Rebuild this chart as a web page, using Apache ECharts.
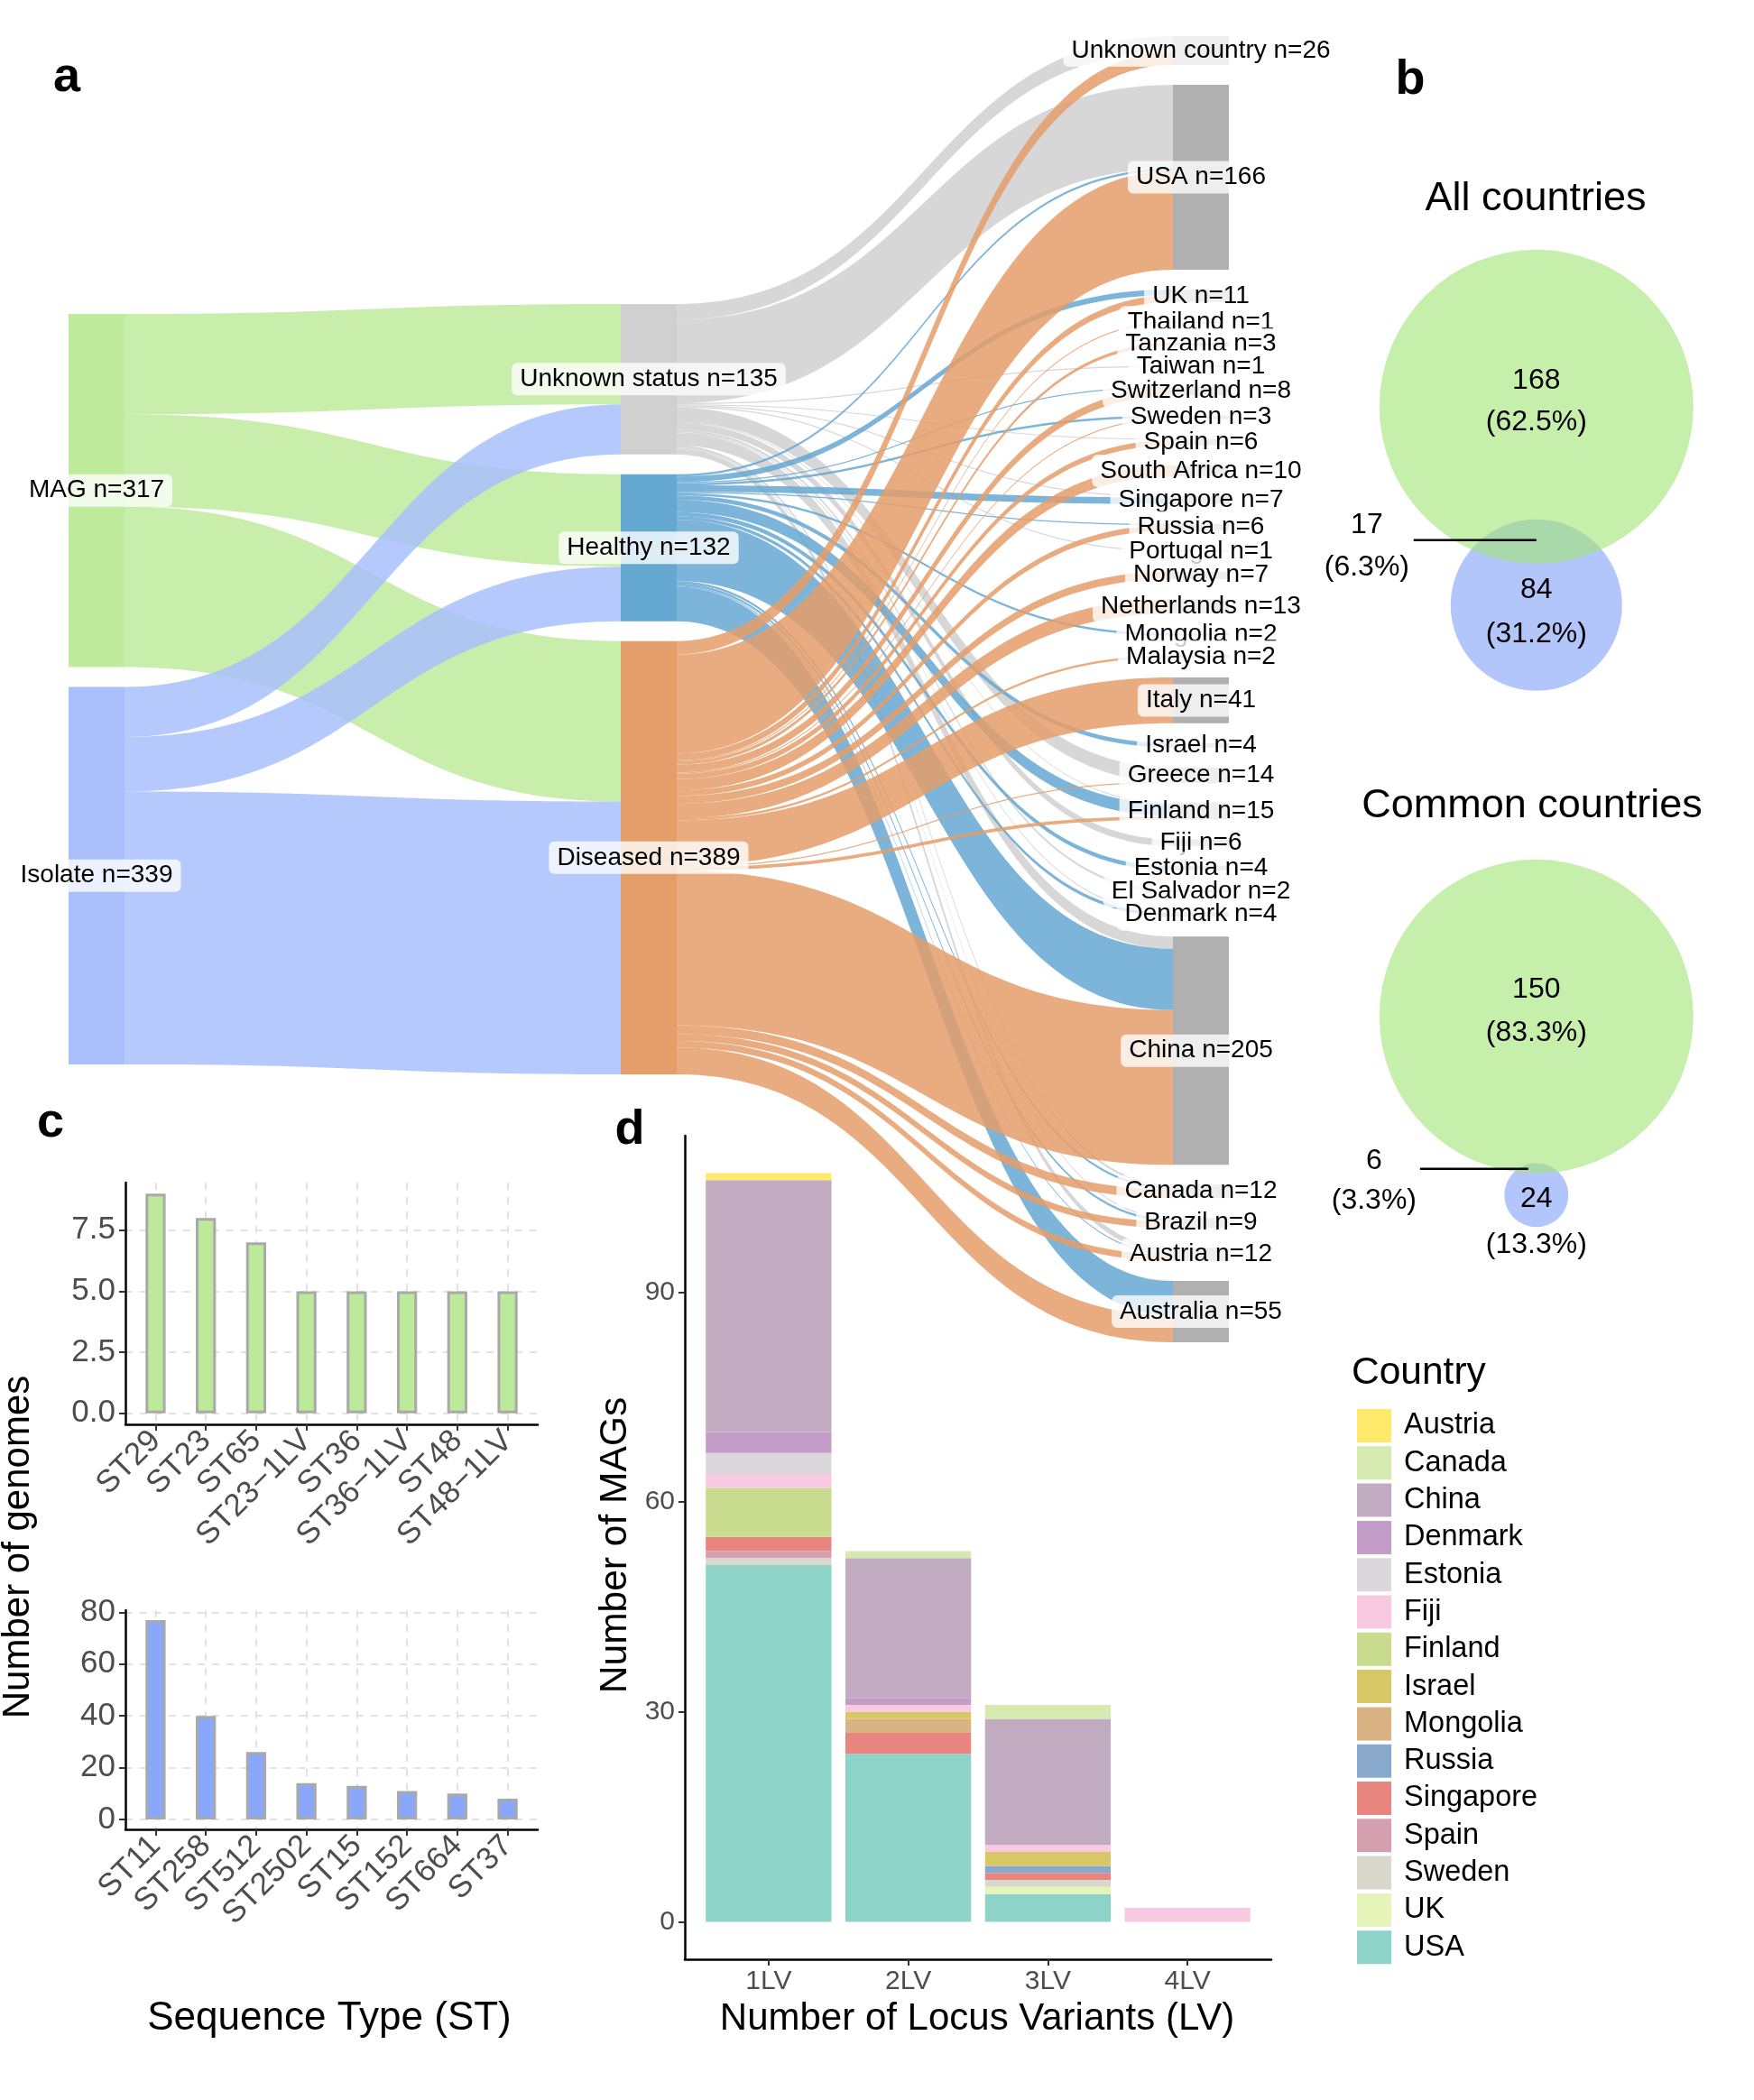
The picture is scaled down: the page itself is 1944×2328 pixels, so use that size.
<!DOCTYPE html>
<html><head><meta charset="utf-8">
<script src="https://cdn.jsdelivr.net/npm/echarts@6/dist/echarts.min.js"></script>
<style>html,body{margin:0;padding:0;background:#fff}#c{width:1944px;height:2328px}</style>
</head><body><div id="c"></div><script>
const FONT = '"Liberation Sans", Arial, Helvetica, sans-serif';

// ---------- Panel a: sankey data ----------
const sources = ['MAG', 'Isolate'];
const sourceCounts = [317, 339];
const statuses = ['Unknown status', 'Healthy', 'Diseased'];
const statusCounts = [135, 132, 389];
const sourceToStatus = [ // rows: MAG, Isolate ; cols: Unknown, Healthy, Diseased
  [90, 83, 144],
  [45, 49, 245]
];
const countries = ['Unknown country','USA','UK','Thailand','Tanzania','Taiwan','Switzerland','Sweden','Spain','South Africa','Singapore','Russia','Portugal','Norway','Netherlands','Mongolia','Malaysia','Italy','Israel','Greece','Finland','Fiji','Estonia','El Salvador','Denmark','China','Canada','Brazil','Austria','Australia'];
const countryCounts = [26,166,11,1,3,1,8,3,6,10,7,6,1,7,13,2,2,41,4,14,15,6,4,2,4,205,12,9,12,55];
const unknownToCountry  = [14,75,0,0,0,1,0,0,1,0,1,0,1,0,0,0,0,0,0,13,1,6,0,2,1,11,2,1,5,0];
const healthyToCountry  = [0,2,5,0,0,0,1,2,0,0,6,1,0,0,0,2,0,0,4,0,11,0,4,0,3,55,2,2,1,31];
const diseasedToCountry = [12,89,6,1,3,0,7,1,5,10,0,5,0,7,13,0,2,41,0,1,3,0,0,0,0,139,8,6,6,24];
const sourceColors = ['#bfeb9d', '#a8bffc'];
const statusColors = ['#d0d0d0', '#65a8d2', '#e59e6a'];
const countryNodeColor = '#b0b0b0';

// ---------- Panel b: venn data ----------
const vennAll = {magOnly: 168, both: 17, isoOnly: 84};
const vennCommon = {magOnly: 150, both: 6, isoOnly: 24};

// ---------- Panel c data ----------
const stMAG = ['ST29','ST23','ST65','ST23\u22121LV','ST36','ST36\u22121LV','ST48','ST48\u22121LV'];
const stMAGCounts = [9,8,7,5,5,5,5,5];
const stIso = ['ST11','ST258','ST512','ST2502','ST15','ST152','ST664','ST37'];
const stIsoCounts = [77,40,26,14,13,11,10,8];
const cTopTicks = [0, 2.5, 5, 7.5];
const cBotTicks = [0, 20, 40, 60, 80];

// ---------- Panel d data ----------
const lvCats = ['1LV','2LV','3LV','4LV'];
const lvTicks = [0, 30, 60, 90];
const legendOrder = ['Austria','Canada','China','Denmark','Estonia','Fiji','Finland','Israel','Mongolia','Russia','Singapore','Spain','Sweden','UK','USA'];
const stackOrder = ['USA','UK','Sweden','Spain','Singapore','Russia','Mongolia','Israel','Finland','Fiji','Estonia','Denmark','China','Canada','Austria'];
const lvUSA       = [51,24,4,0];
const lvUK        = [0,0,1,0];
const lvSweden    = [1,0,1,0];
const lvSpain     = [1,0,0,0];
const lvSingapore = [2,3,1,0];
const lvRussia    = [0,0,1,0];
const lvMongolia  = [0,2,0,0];
const lvIsrael    = [0,1,2,0];
const lvFinland   = [7,0,0,0];
const lvFiji      = [2,1,1,2];
const lvEstonia   = [3,0,0,0];
const lvDenmark   = [3,1,0,0];
const lvChina     = [36,20,18,0];
const lvCanada    = [0,1,2,0];
const lvAustria   = [1,0,0,0];
const lvData = {USA:lvUSA, UK:lvUK, Sweden:lvSweden, Spain:lvSpain, Singapore:lvSingapore, Russia:lvRussia, Mongolia:lvMongolia, Israel:lvIsrael, Finland:lvFinland, Fiji:lvFiji, Estonia:lvEstonia, Denmark:lvDenmark, China:lvChina, Canada:lvCanada, Austria:lvAustria};
const lvColors = {Austria:'#ffe96b', Canada:'#d5e9b0', China:'#c1abc1', Denmark:'#c39cc8', Estonia:'#dcd7da', Fiji:'#f8c9e1', Finland:'#c8db8e', Israel:'#d8c865', Mongolia:'#d9b383', Russia:'#88a9cb', Singapore:'#e8857e', Spain:'#d4a0b0', Sweden:'#d9d8cd', UK:'#e6f4b9', USA:'#8ed3c7'};

// ================= build sankey =================
const sum = a => a.reduce((s, v) => s + v, 0);
const SK = {left: 76, top: 40, width: 1286, height: 1448, nodeWidth: 62, gap: 22};
const columns = [sourceCounts, statusCounts, countryCounts];
const ky = Math.min(...columns.map(c => (SK.height - (c.length - 1) * SK.gap) / sum(c)));
function colLocalY(counts) {
  const total = sum(counts) * ky + (counts.length - 1) * SK.gap;
  let y = (SK.height - total) / 2;
  return counts.map(v => { const r = y / SK.height; y += v * ky + SK.gap; return r; });
}
const nMap = {};
const nodes = [];
const ySrc = colLocalY(sourceCounts), ySt = colLocalY(statusCounts), yCo = colLocalY(countryCounts);
sources.forEach((s, i) => { nMap[s] = sourceCounts[i]; nodes.push({name: s, localY: ySrc[i], itemStyle: {color: sourceColors[i]}}); });
statuses.forEach((s, i) => { nMap[s] = statusCounts[i]; nodes.push({name: s, localY: ySt[i], itemStyle: {color: statusColors[i]}}); });
countries.forEach((s, i) => { nMap[s] = countryCounts[i]; nodes.push({name: s, localY: yCo[i], itemStyle: {color: countryNodeColor}}); });
const links = [];
sources.forEach((s, i) => statuses.forEach((t, j) => { if (sourceToStatus[i][j] > 0) links.push({source: s, target: t, value: sourceToStatus[i][j]}); }));
[unknownToCountry, healthyToCountry, diseasedToCountry].forEach((row, j) => {
  row.forEach((v, k) => { if (v > 0) links.push({source: statuses[j], target: countries[k], value: v}); });
});

// ================= venn helpers =================
function pct(v, o) { const t = o.magOnly + o.both + o.isoOnly; return '(' + (100 * v / t).toFixed(1) + '%)'; }
// circles: [cx, cy, r] in venn units (MAG circle radius = 1)
const vennAllCircles = [[0, -1.264, 0.546], [0, 0, 1]];
const vennCommonCircles = [[0, -1.138, 0.204], [0, 0, 1]];
const vennCircleColors = ['#b3c6fb', 'rgba(162,228,117,0.6)'];
const vennAllText = [
  [String(vennAll.magOnly), 0, 0.167], [pct(vennAll.magOnly, vennAll), 0, -0.098],
  [String(vennAll.isoOnly), 0, -1.167], [pct(vennAll.isoOnly, vennAll), 0, -1.448],
  [String(vennAll.both), -1.08, -0.753], [pct(vennAll.both, vennAll), -1.08, -1.023]
];
const vennCommonText = [
  [String(vennCommon.magOnly), 0, 0.172], [pct(vennCommon.magOnly, vennCommon), 0, -0.103],
  [String(vennCommon.isoOnly), 0, -1.161], [pct(vennCommon.isoOnly, vennCommon), 0, -1.454],
  [String(vennCommon.both), -1.034, -0.92], [pct(vennCommon.both, vennCommon), -1.034, -1.172]
];
const vennAllLine = [[-0.782, -0.851, 0, -0.851]];
const vennCommonLine = [[-0.741, -0.971, -0.052, -0.971]];

function circleSeries(gi, data) {
  return {type: 'custom', xAxisIndex: gi, yAxisIndex: gi, silent: true, data,
    renderItem: (p, api) => {
      const c = api.coord([api.value(0), api.value(1)]);
      const r = api.size([api.value(2), 0])[0];
      return {type: 'circle', shape: {cx: c[0], cy: c[1], r}, style: {fill: vennCircleColors[p.dataIndex]}};
    }};
}
function textSeries(gi, items) {
  return {type: 'custom', xAxisIndex: gi, yAxisIndex: gi, silent: true, data: items.map(t => [t[1], t[2]]),
    renderItem: (p, api) => {
      const c = api.coord([api.value(0), api.value(1)]);
      return {type: 'text', x: c[0], y: c[1], style: {text: items[p.dataIndex][0], font: '32px ' + FONT, fill: '#000', align: 'center', verticalAlign: 'middle'}};
    }};
}
function lineSeries(gi, data) {
  return {type: 'custom', xAxisIndex: gi, yAxisIndex: gi, silent: true, data,
    renderItem: (p, api) => {
      const a = api.coord([api.value(0), api.value(1)]);
      const b = api.coord([api.value(2), api.value(3)]);
      return {type: 'line', shape: {x1: a[0], y1: a[1], x2: b[0], y2: b[1]}, style: {stroke: '#000', lineWidth: 2.5}};
    }};
}

// ================= axes helpers =================
function axisX(gi, min, max, ticks, fmt, rotate, split, fs, margin) {
  return {gridIndex: gi, type: 'value', min, max,
    axisLine: {show: true, onZero: false, lineStyle: {color: '#000', width: 2.5}},
    axisTick: {show: true, customValues: ticks, length: 7, lineStyle: {color: '#333', width: 2}},
    axisLabel: {customValues: ticks, formatter: fmt, rotate, margin, fontSize: fs, color: '#4d4d4d', fontFamily: FONT},
    splitLine: {show: split, lineStyle: {type: [8, 8], color: '#e2e2e2', width: 2}}};
}
function axisY(gi, min, max, ticks, fmt, split, fs) {
  return {gridIndex: gi, type: 'value', min, max,
    axisLine: {show: true, onZero: false, lineStyle: {color: '#000', width: 2.5}},
    axisTick: {show: true, customValues: ticks, length: 7, lineStyle: {color: '#333', width: 2}},
    axisLabel: {customValues: ticks, formatter: fmt, margin: 11, fontSize: fs, color: '#4d4d4d', fontFamily: FONT},
    splitLine: {show: split, lineStyle: {type: [8, 8], color: '#e2e2e2', width: 2}}};
}
const hidden = (gi, min, max) => ({gridIndex: gi, type: 'value', min, max, show: false});
const idx = a => a.map((_, i) => i + 1);

// stacked bars (category axis in a bar-only grid, aligned with the axis grid)
const lvSeries = stackOrder.map(name => ({
  name, type: 'bar', xAxisIndex: 6, yAxisIndex: 6, stack: 'lv', barWidth: '90%',
  itemStyle: {color: lvColors[name]}, emphasis: {disabled: true},
  data: lvData[name]
}));

const txt = (x, y, text, size, opts) => Object.assign({type: 'text', x, y, silent: true,
  style: {text, font: (opts && opts.bold ? 'bold ' : '') + size + 'px ' + FONT, fill: '#000',
    align: (opts && opts.align) || 'center', verticalAlign: 'middle',
    textAlign: (opts && opts.align) || 'center', textVerticalAlign: 'middle'}}, opts && opts.rot ? {rotation: opts.rot} : {});

const D = {left: 759, top: 1259, width: 650, height: 913};
const dBand = D.width / 4.2;

const option = {
  backgroundColor: '#fff',
  animation: false,
  textStyle: {fontFamily: FONT},
  grid: [
    {left: 139, top: 1311, width: 457, height: 268},
    {left: 139, top: 1785, width: 457, height: 243},
    {left: D.left, top: D.top, width: D.width, height: D.height},
    {left: 1494, top: 242, width: 417.6, height: 556.8},
    {left: 1494, top: 918, width: 417.6, height: 556.8},
    {left: 1494, top: 918, width: 417.6, height: 556.8},
    {left: D.left + 0.1 * dBand, top: D.top, width: 4 * dBand, height: D.height}
  ],
  xAxis: [
    axisX(0, 0.4, 8.6, idx(stMAG), v => stMAG[v - 1], 45, true, 35, 13),
    axisX(1, 0.4, 8.6, idx(stIso), v => stIso[v - 1], 45, true, 35, 13),
    axisX(2, 0.4, 4.6, idx(lvCats), v => lvCats[v - 1], 0, false, 30, 10),
    hidden(3, -1.2, 1.2),
    hidden(4, -1.2, 1.2),
    hidden(5, -1.2, 1.2),
    {gridIndex: 6, type: 'category', data: lvCats, show: false}
  ],
  yAxis: [
    axisY(0, -0.45, 9.45, cTopTicks, v => v.toFixed(1), true, 35),
    axisY(1, -3.85, 80.85, cBotTicks, v => String(v), true, 35),
    axisY(2, -5.35, 112.35, lvTicks, v => String(v), false, 30),
    hidden(3, -2, 1.2),
    hidden(4, -2, 1.2),
    hidden(5, -2, 1.2),
    hidden(6, -5.35, 112.35)
  ],
  legend: {
    data: legendOrder, orient: 'vertical', left: 1499, top: 1557, icon: 'rect',
    itemWidth: 38, itemHeight: 37, itemGap: 4.3, selectedMode: false,
    textStyle: {fontSize: 32.5, color: '#000', fontFamily: FONT, lineHeight: 37, padding: [0, 0, 0, 9]}
  },
  series: [
    {
      type: 'sankey', left: SK.left, top: SK.top, right: 1944 - SK.left - SK.width, bottom: 2328 - SK.top - SK.height,
      nodeWidth: SK.nodeWidth, nodeGap: SK.gap, layoutIterations: 0, draggable: false,
      emphasis: {disabled: true}, silent: true,
      data: nodes, links,
      itemStyle: {borderWidth: 0},
      lineStyle: {color: 'source', opacity: 0.85, curveness: 0.5},
      label: {show: true, position: 'inside', color: '#000', fontSize: 28, fontFamily: FONT,
        backgroundColor: 'rgba(255,255,255,0.78)', padding: [4, 9], borderRadius: 6,
        formatter: p => p.name + ' n=' + nMap[p.name]}
    },
    {type: 'bar', xAxisIndex: 0, yAxisIndex: 0, barWidth: '40%', data: stMAGCounts.map((v, i) => [i + 1, v]),
      itemStyle: {color: '#bde99a', borderColor: '#a9a9a9', borderWidth: 3}, emphasis: {disabled: true}},
    {type: 'bar', xAxisIndex: 1, yAxisIndex: 1, barWidth: '40%', data: stIsoCounts.map((v, i) => [i + 1, v]),
      itemStyle: {color: '#8aa8fb', borderColor: '#a9a9a9', borderWidth: 3}, emphasis: {disabled: true}},
    ...lvSeries,
    circleSeries(3, vennAllCircles),
    lineSeries(3, vennAllLine),
    textSeries(3, vennAllText),
    circleSeries(4, vennCommonCircles),
    lineSeries(4, vennCommonLine),
    textSeries(4, vennCommonText)
  ],
  graphic: [
    txt(74, 86, 'a', 54, {bold: true}),
    txt(1563, 89, 'b', 54, {bold: true}),
    txt(56, 1245, 'c', 54, {bold: true}),
    txt(698, 1253, 'd', 54, {bold: true}),
    txt(1702, 221, 'All countries', 45),
    txt(1698, 894, 'Common countries', 45),
    txt(20, 1715, 'Number of genomes', 42, {rot: Math.PI / 2}),
    txt(365, 2238, 'Sequence Type (ST)', 44),
    txt(682, 1713, 'Number of MAGs', 42.5, {rot: Math.PI / 2}),
    txt(1083, 2238, 'Number of Locus Variants (LV)', 42),
    txt(1498, 1522, 'Country', 42.5, {align: 'left'})
  ]
};
const chart = echarts.init(document.getElementById('c'), null, {renderer: 'canvas', width: 1944, height: 2328});
chart.setOption(option);
</script></body></html>
